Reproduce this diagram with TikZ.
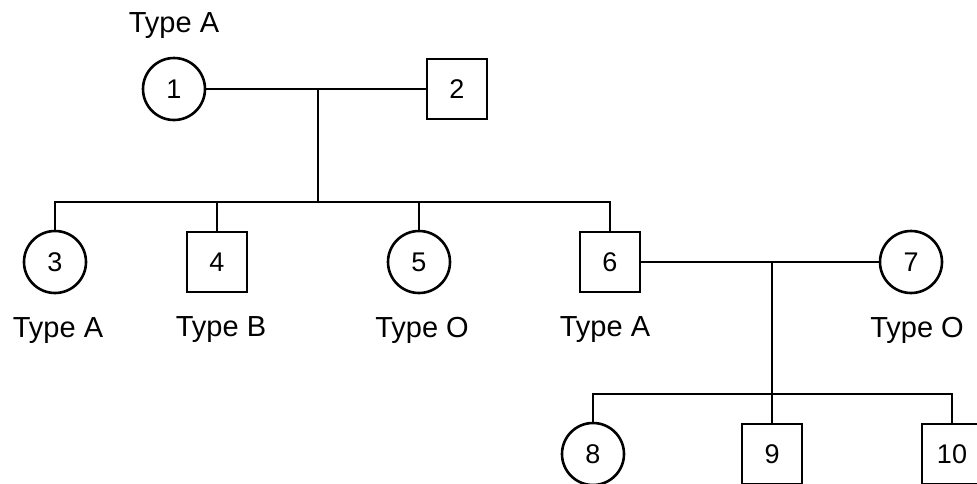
\documentclass[tikz,border=0pt]{standalone}
\usepackage{fontspec}
\setmainfont{Liberation Sans}
\usetikzlibrary{positioning}

\begin{document}
\begin{tikzpicture}[
  x=1pt, y=-1pt,
  line width=2.6pt,
  female/.style={circle, draw=black, minimum size=62pt, inner sep=0pt,
                 font=\fontsize{27}{32}\selectfont},
  male/.style={rectangle, draw=black, minimum size=60pt, inner sep=0pt,
               font=\fontsize{27}{32}\selectfont},
  typelabel/.style={inner sep=0pt, font=\fontsize{29}{34}\selectfont},
  link/.style={draw=black, line width=2.6pt}
]
\clip (0,0) rectangle (977,483);

% first generation
\node[female] (n1) at (174,89) {1};
\node[male] (n2) at (457,89) {2};
\node[typelabel, above=17pt of n1] (t1) {Type A};

% children of 1 and 2
\node[female] (n3) at (55,262) {3};
\node[male] (n4) at (217,262) {4};
\node[female] (n5) at (419,262) {5};
\node[male] (n6) at (610,262) {6};
\node[female] (n7) at (911,262) {7};
\node[typelabel, below=22pt of n3, xshift=3pt] (t3) {Type A};
\node[typelabel, below=22pt of n4, xshift=4pt] (t4) {Type B};
\node[typelabel, below=22pt of n5, xshift=3pt] (t5) {Type O};
\node[typelabel, below=22pt of n6, xshift=-5pt] (t6) {Type A};
\node[typelabel, below=22pt of n7, xshift=6pt] (t7) {Type O};

% children of 6 and 7
\node[female] (n8) at (593,454) {8};
\node[male] (n9) at (772,454) {9};
\node[male] (n10) at (952,454) {10};

\coordinate (m12) at (318,89);
\coordinate (s1) at (318,202);
\coordinate (m67) at (772,262);
\coordinate (s2) at (772,394);

\draw[link] (n1) -- (n2);
\draw[link] (m12) -- (s1);
\draw[link] (n3.north) |- (s1) -| (n6.north);
\draw[link] (n4.north) -- (n4 |- s1);
\draw[link] (n5.north) -- (n5 |- s1);

\draw[link] (n6) -- (n7);
\draw[link] (m67) -- (n9);
\draw[link] (n8.north) |- (s2) -| (n10.north);
\end{tikzpicture}
\end{document}
